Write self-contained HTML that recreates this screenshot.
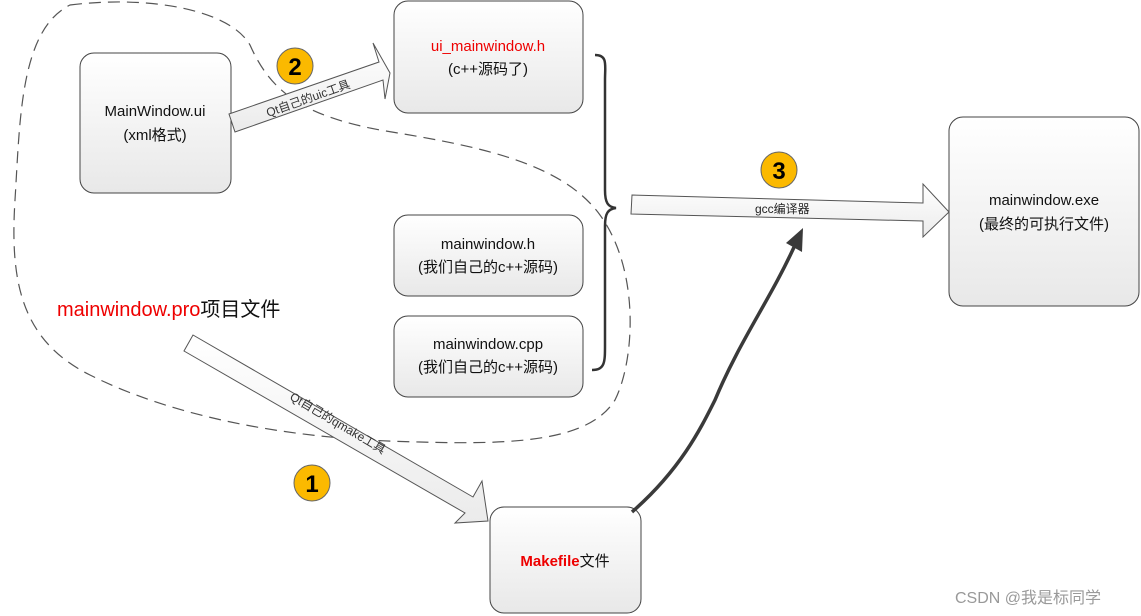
<!DOCTYPE html>
<html><head><meta charset="utf-8"><style>
html,body{margin:0;padding:0;background:#fff;}
svg{display:block;font-family:"Liberation Sans","Noto Sans CJK SC",sans-serif;}
</style></head><body>
<svg width="1141" height="616" viewBox="0 0 1141 616" xmlns="http://www.w3.org/2000/svg">
<defs>
<linearGradient id="bg" x1="0" y1="0" x2="0" y2="1">
<stop offset="0" stop-color="#ffffff"/><stop offset="1" stop-color="#e8e8e8"/></linearGradient>
<linearGradient id="ag" x1="0" y1="0" x2="0" y2="1">
<stop offset="0" stop-color="#ffffff"/><stop offset="1" stop-color="#ebebeb"/></linearGradient>
</defs>
<rect width="1141" height="616" fill="#fff"/>
<path d="M70,5 C150,-5 230,10 250,45 C270,90 300,115 380,130 C470,145 560,160 600,215 C640,270 635,360 615,400 C590,440 520,445 420,442 C300,440 180,420 90,375 C20,340 10,280 15,200 C20,120 20,30 70,5 Z" fill="none" stroke="#555" stroke-width="1.2" stroke-dasharray="12,7"/>
<g stroke="#444" stroke-width="1" fill="url(#bg)">
<rect x="80" y="53" width="151" height="140" rx="14"/>
<rect x="394" y="1" width="189" height="112" rx="14"/>
<rect x="394" y="215" width="189" height="81" rx="14"/>
<rect x="394" y="316" width="189" height="81" rx="14"/>
<rect x="949" y="117" width="190" height="189" rx="14"/>
<rect x="490" y="507" width="151" height="106" rx="14"/>
</g>
<path d="M595,55 C608,55 605,65 605,80 L605,190 C605,203 608,207 616,208 C608,209 605,213 605,226 L605,345 C605,362 605,370 592,370" fill="none" stroke="#333" stroke-width="2.5"/>
<polygon points="229,114 379,62 373,43 390,73 385,99 383,80 235,132" fill="url(#ag)" stroke="#555" stroke-width="1"/>
<text x="0" y="0" font-size="12" fill="#333" transform="translate(268,117) rotate(-19.5)">Qt自己的uic工具</text>
<polygon points="193,335 473,497 482,481 488,521 455,523 465,513 184,351" fill="url(#ag)" stroke="#555" stroke-width="1"/>
<text x="0" y="0" font-size="12" fill="#333" transform="translate(289,399) rotate(30.5)">Qt自己的qmake工具</text>
<polygon points="632,195 923,203 923,184 949,212 923,237 923,221 631,214" fill="url(#ag)" stroke="#555" stroke-width="1"/>
<text x="755" y="213" font-size="12" fill="#222">gcc编译器</text>
<path d="M632,512 C680,470 700,430 715,400 C740,340 770,300 795,245" fill="none" stroke="#3a3a3a" stroke-width="3.5"/>
<polygon points="803,228 802,252 786,243" fill="#3a3a3a"/>
<g font-weight="bold" font-size="24" text-anchor="middle" fill="#000">
<circle cx="295" cy="66" r="18" fill="#fbb900" stroke="#666"/><text x="295" y="75">2</text>
<circle cx="779" cy="170" r="18" fill="#fbb900" stroke="#666"/><text x="779" y="179">3</text>
<circle cx="312" cy="483" r="18" fill="#fbb900" stroke="#666"/><text x="312" y="492">1</text>
</g>
<g font-size="15" text-anchor="middle" fill="#111">
<text x="155" y="116">MainWindow.ui</text>
<text x="155" y="140">(xml格式)</text>
<text x="488" y="51" fill="#e00">ui_mainwindow.h</text>
<text x="488" y="74">(c++源码了)</text>
<text x="488" y="249">mainwindow.h</text>
<text x="488" y="272">(我们自己的c++源码)</text>
<text x="488" y="349">mainwindow.cpp</text>
<text x="488" y="372">(我们自己的c++源码)</text>
<text x="1044" y="205">mainwindow.exe</text>
<text x="1044" y="229">(最终的可执行文件)</text>
<text x="565" y="566"><tspan fill="#e00" font-weight="bold">Makefile</tspan><tspan>文件</tspan></text>
</g>
<text x="57" y="316" font-size="20" fill="#111"><tspan fill="#e00">mainwindow.pro</tspan>项目文件</text>
<text x="955" y="603" font-size="16" fill="#999">CSDN @我是标同学</text>
</svg>
</body></html>
